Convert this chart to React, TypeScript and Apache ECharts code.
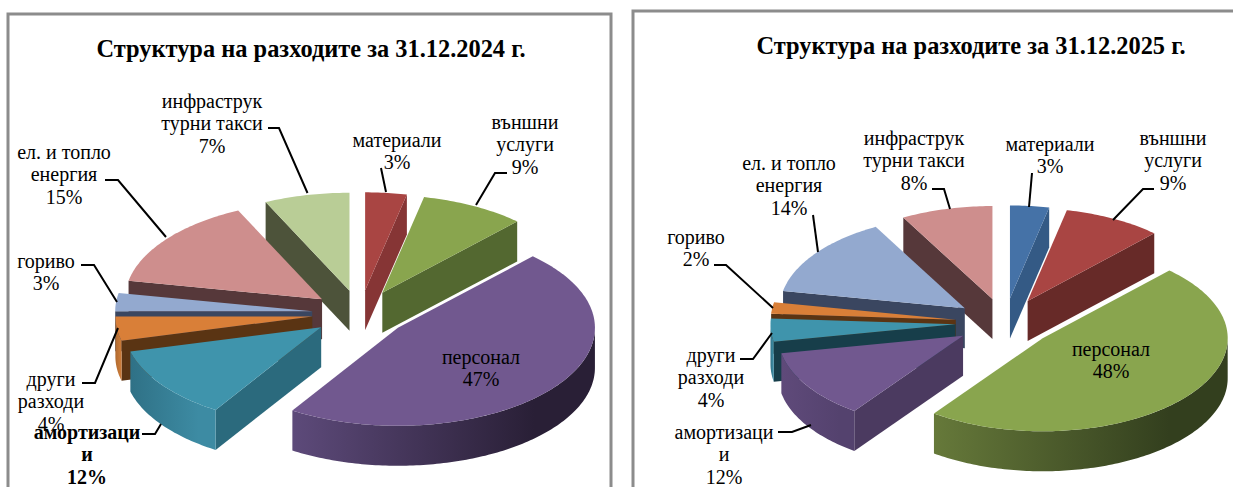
import React, { useEffect, useRef } from "react";
import * as echarts from "echarts";

// ---- data ----
const categories2024 = ["материали", "външни\nуслуги", "персонал", "амортизаци\nи", "други\nразходи", "гориво", "ел. и топло\nенергия", "инфраструк\nтурни такси"];
const values2024 = [3.4, 8.6, 47, 12, 4, 3, 15, 7];
const categories2025 = ["материали", "външни\nуслуги", "персонал", "амортизаци\nи", "други\nразходи", "гориво", "ел. и топло\nенергия", "инфраструк\nтурни такси"];
const values2025 = [3.4, 8.6, 48, 12, 4, 2, 14, 8];
const title2024 = "Структура на разходите за 31.12.2024 г.";
const title2025 = "Структура на разходите за 31.12.2025 г.";

// ---- styles & layout ----
const SERIF = "'Liberation Serif', 'Times New Roman', serif";
type Pal = { top: string; side: string; rimA: string; rimB: string };
const palette2024: Pal[] = [
  { top: "#A94543", side: "#863535", rimA: "#863535", rimB: "#863535" },
  { top: "#89A54E", side: "#536830", rimA: "#536830", rimB: "#536830" },
  { top: "#71588F", side: "#4a3a5e", rimA: "#5d4a7a", rimB: "#291f36" },
  { top: "#3F94AC", side: "#2b6a7d", rimA: "#2f7186", rimB: "#3d8ba3" },
  { top: "#D97F38", side: "#5a3413", rimA: "#b06a30", rimB: "#c97a38" },
  { top: "#93A9CF", side: "#3a4660", rimA: "#3a4660", rimB: "#3a4660" },
  { top: "#CE8E8D", side: "#56383a", rimA: "#56383a", rimB: "#56383a" },
  { top: "#B9CD96", side: "#4d533a", rimA: "#4d533a", rimB: "#4d533a" },
];
const palette2025: Pal[] = [
  { top: "#4572A7", side: "#345a85", rimA: "#345a85", rimB: "#345a85" },
  { top: "#A94543", side: "#672a28", rimA: "#672a28", rimB: "#672a28" },
  { top: "#89A54E", side: "#5f7136", rimA: "#66793a", rimB: "#333f1e" },
  { top: "#71588F", side: "#4b3a60", rimA: "#5f4a7a", rimB: "#54426e" },
  { top: "#3F94AC", side: "#173e4a", rimA: "#2f7186", rimB: "#3d8ba3" },
  { top: "#D97F38", side: "#5a3413", rimA: "#b06a30", rimB: "#c97a38" },
  { top: "#93A9CF", side: "#3a4660", rimA: "#3a4660", rimB: "#3a4660" },
  { top: "#CE8E8D", side: "#56383a", rimA: "#56383a", rimB: "#56383a" },
];
const geom2024 = { cx: 360, cy: 313.5, rx: 197, ry: 98, ex: 48, ey: 23.3, depth: 40 };
const geom2025 = { cx: 1004.7, cy: 322.7, rx: 185, ry: 93, ex: 49.3, ey: 24.4, depth: 40 };

const labels2024 = [
  { x: 397, y: 151 }, { x: 525, y: 144 }, { x: 481, y: 368 }, { x: 87, y: 454 },
  { x: 51, y: 401 }, { x: 46, y: 272 }, { x: 64, y: 174 }, { x: 212, y: 123 },
];
const labels2025 = [
  { x: 1050, y: 155 }, { x: 1173, y: 160 }, { x: 1111, y: 360 }, { x: 724, y: 454 },
  { x: 711, y: 377 }, { x: 696, y: 248 }, { x: 789, y: 185 }, { x: 914, y: 160 },
];
const leaders2024 = [
  [[381, 168], [386, 192]], [[507, 173], [495, 173], [476, 205]], [], [[142, 434], [155, 434], [161, 424]],
  [[82, 383], [95, 383], [118, 328]], [[81, 265], [94, 265], [117, 302]], [[105, 180], [118, 180], [166, 237]], [[268, 128], [279, 128], [307.5, 193]],
];
const leaders2025 = [
  [[1032, 173], [1029, 207]], [[1154, 189], [1143, 189], [1113, 220]], [], [[778, 432], [792, 432], [811, 425]],
  [[740, 359], [753, 359], [772, 333]], [[714, 265], [726, 265], [773, 308]], [[813, 215], [818, 252]], [[932, 189], [944, 189], [950, 209]],
];

function pieSeries(name: string, cats: string[], values: number[], pal: Pal[], g: typeof geom2024) {
  const total = values.reduce((a, b) => a + b, 0);
  const cum: number[] = [0];
  values.forEach((v, i) => cum.push(cum[i] + v));
  const apexOf = (i: number) => {
    const mid = (((cum[i] + cum[i + 1]) / 2) / total) * 2 * Math.PI;
    return [g.cx + g.ex * Math.sin(mid), g.cy - g.ey * Math.cos(mid)];
  };
  const order = values.map((_, i) => i).sort((p, q) => apexOf(p)[1] - apexOf(q)[1]);
  return {
    type: "custom",
    name,
    coordinateSystem: "none",
    silent: true,
    data: values.map((v, i) => ({ name: cats[i], value: v })),
    renderItem(params: any) {
      const i = params.dataIndex;
      const a = (cum[i] / total) * 2 * Math.PI;
      const b = (cum[i + 1] / total) * 2 * Math.PI;
      const [ax, ay] = apexOf(i);
      const pt = (t: number, dz = 0) => [ax + g.rx * Math.sin(t), ay - g.ry * Math.cos(t) + dz];
      const rank = order.indexOf(i) * 10;
      const children: any[] = [];
      const poly = (points: number[][], fill: any, z: number) =>
        children.push({ type: "polygon", z2: rank + z, shape: { points }, style: { fill, stroke: null } });
      // cut faces
      if (Math.sin(a) < 0) poly([[ax, ay], pt(a), pt(a, g.depth), [ax, ay + g.depth]], pal[i].side, 1);
      if (Math.sin(b) > 0) poly([[ax, ay], pt(b), pt(b, g.depth), [ax, ay + g.depth]], pal[i].side, 1);
      // rim, front half only
      const r0 = Math.max(a, Math.PI / 2);
      const r1 = Math.min(b, (3 * Math.PI) / 2);
      if (r1 > r0) {
        const up: number[][] = [];
        const down: number[][] = [];
        const n = Math.max(4, Math.ceil(((r1 - r0) * 180) / Math.PI));
        for (let k = 0; k <= n; k++) {
          const t = r0 + ((r1 - r0) * k) / n;
          up.push(pt(t));
          down.unshift(pt(t, g.depth));
        }
        poly(up.concat(down), new echarts.graphic.LinearGradient(0, 0, 1, 0, [
          { offset: 0, color: pal[i].rimA },
          { offset: 0.8, color: pal[i].rimB },
          { offset: 1, color: pal[i].rimB },
        ]), 2);
      }
      // top face
      const top: number[][] = [[ax, ay]];
      const m = Math.max(4, Math.ceil(((b - a) * 180) / Math.PI));
      for (let k = 0; k <= m; k++) top.push(pt(a + ((b - a) * k) / m));
      poly(top, pal[i].top, 3);
      return { type: "group", children };
    },
  };
}

function textEls(cats: string[], values: number[], pos: { x: number; y: number }[], lines: number[][][]) {
  const out: any[] = [];
  cats.forEach((c, i) => {
    out.push({
      type: "text",
      z: 100,
      x: pos[i].x,
      y: pos[i].y,
      style: {
        text: `${c}\n${Math.round(values[i])}%`,
        fontFamily: SERIF,
        fontSize: 20,
        lineHeight: 22.5,
        fontWeight: c.startsWith("амортизаци") && pos[i].x < 600 ? "bold" : "normal",
        fill: "#000",
        textAlign: "center",
        textVerticalAlign: "middle",
      },
    });
    if (lines[i].length) {
      out.push({
        type: "polyline",
        z: 90,
        shape: { points: lines[i] },
        style: { stroke: "#000", lineWidth: 2, fill: null },
      });
    }
  });
  return out;
}

export default function App() {
  const ref = useRef<HTMLDivElement>(null);
  useEffect(() => {
    if (!ref.current) return;
    const chart = echarts.init(ref.current, undefined, { renderer: "svg" });
    const titleStyle = { fontFamily: SERIF, fontWeight: "bold" as const, fontSize: 24.4, color: "#000" };
    chart.setOption({
      animation: false,
      backgroundColor: "#fff",
      title: [
        { text: title2024, left: 311, top: 36, textAlign: "center", textStyle: titleStyle, padding: 0 },
        { text: title2025, left: 971, top: 33, textAlign: "center", textStyle: titleStyle, padding: 0 },
      ],
      graphic: [
        { type: "polyline", z: 50, shape: { points: [[8, 490], [8, 14], [611, 14], [611, 490]] }, style: { stroke: "#8c8c8c", lineWidth: 3, fill: null } },
        { type: "polyline", z: 50, shape: { points: [[633, 490], [633, 11], [1236, 11]] }, style: { stroke: "#8c8c8c", lineWidth: 3, fill: null } },
        ...textEls(categories2024, values2024, labels2024, leaders2024),
        ...textEls(categories2025, values2025, labels2025, leaders2025),
      ],
      series: [
        pieSeries("2024", categories2024, values2024, palette2024, geom2024),
        pieSeries("2025", categories2025, values2025, palette2025, geom2025),
      ],
    });
    return () => chart.dispose();
  }, []);
  return <div ref={ref} style={{ position: "fixed", left: 0, top: 0, width: 1233, height: 487, overflow: "hidden" }} />;
}
